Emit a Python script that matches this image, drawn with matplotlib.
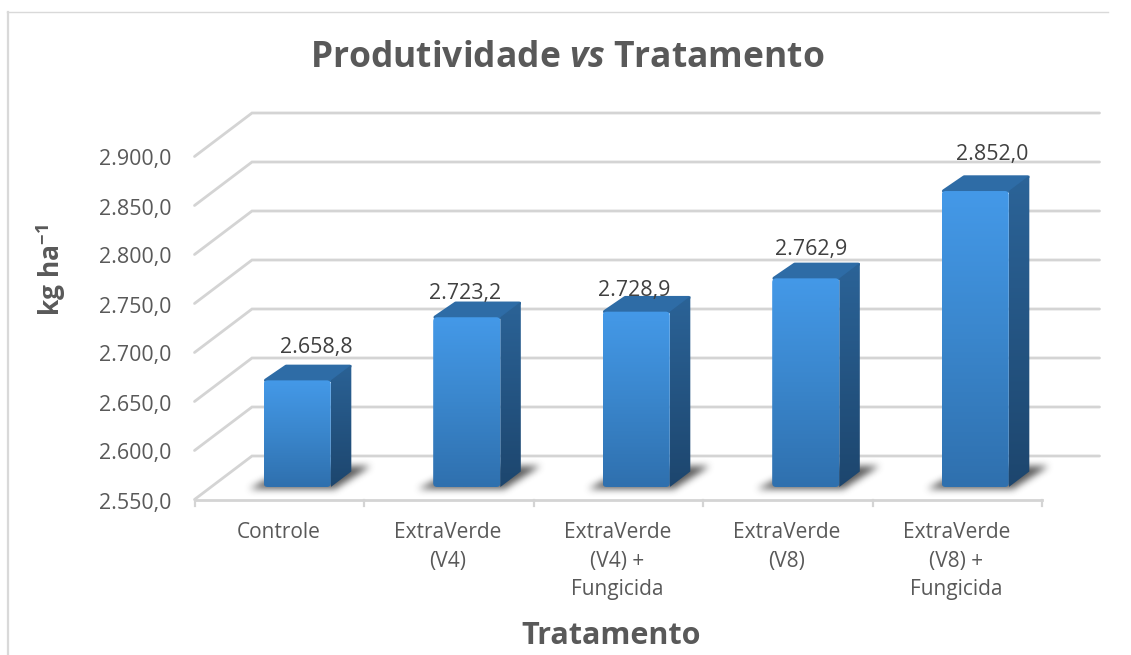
import numpy as np
import matplotlib
matplotlib.use("Agg")
import matplotlib.pyplot as plt
from matplotlib.colors import LinearSegmentedColormap
from matplotlib.patches import FancyBboxPatch, Polygon
from matplotlib.path import Path
from matplotlib.transforms import Affine2D

# dados do grafico
categorias = ["Controle", "ExtraVerde\n(V4)", "ExtraVerde\n(V4) +\nFungicida",
              "ExtraVerde\n(V8)", "ExtraVerde\n(V8) +\nFungicida"]
produtividade = [2658.8, 2723.2, 2728.9, 2762.9, 2852.0]
ticks_y = [2550, 2600, 2650, 2700, 2750, 2800, 2850, 2900]
# os rotulos foram arrastados a mao no original (dx, dy em pixels)
ajuste_rotulos = [(5, -2), (-15, 7), (-16, 9), (-8, 2), (3, -6)]


def fmt_br(v):
    # 2658.8 -> 2.658,8
    return f"{v:,.1f}".replace(",", "#").replace(".", ",").replace("#", ".")


def borrar(m, n=7):
    # borrao simples: caixa aplicada 3x nas duas direcoes
    k = np.ones(n) / n
    for _ in range(3):
        m = np.apply_along_axis(lambda l: np.convolve(l, k, mode="same"), 0, m)
        m = np.apply_along_axis(lambda l: np.convolve(l, k, mode="same"), 1, m)
    return m


plt.rcParams["font.family"] = "Open Sans"
plt.rcParams["mathtext.fontset"] = "custom"
plt.rcParams["mathtext.bf"] = "Open Sans:bold"
plt.rcParams["mathtext.bfit"] = "Open Sans:italic:bold"
plt.rcParams["mathtext.rm"] = "Open Sans:bold"

W, H = 1131, 655
fig = plt.figure(figsize=(W / 100, H / 100), dpi=100, facecolor="white")

# eixo no plano da frente das barras: 5 categorias, base em y=487 px
esq, dir_, base, topo = 212.5, 1060.0, 487.0, 144.0
ax = fig.add_axes([esq / W, 1 - base / H, (dir_ - esq) / W, (base - topo) / H])
ax.axis("off")
ax.set_zorder(1)
xlim = (-0.5, 4.5)
ylim = (2550, 2900)
ax.set_xlim(xlim)
ax.set_ylim(ylim)


def desloc(dx, dy):
    # deslocamento em pixels da imagem sobre as coordenadas de dados (perspectiva)
    return ax.transData + Affine2D().translate(dx, -dy)


frente = (-18, 12.5)
fundo = (39.5, -31)
cor_grade = "#d4d4d4"
cor_texto = "#595959"

# moldura do grafico
fig.add_artist(plt.Line2D([7.5 / W, 7.5 / W], [0, 1 - 11.5 / H], color="#d9d9d9", lw=1.6))
fig.add_artist(plt.Line2D([7 / W, 1108 / W], [1 - 11.5 / H, 1 - 11.5 / H], color="#d9d9d9", lw=1.0))

# grade: linha de fundo + diagonal para o plano da frente
for t in ticks_y:
    px0 = ax.transData.transform((xlim[0], t))
    px1 = ax.transData.transform((xlim[1], t))
    pts = np.array([
        [px0[0] + frente[0], px0[1] - frente[1]],
        [px0[0] + fundo[0], px0[1] - fundo[1]],
        [px1[0] + fundo[0], px1[1] - fundo[1]],
    ])
    ax.plot(pts[:, 0], pts[:, 1], transform=None, color=cor_grade, lw=2.0,
            solid_capstyle="round", solid_joinstyle="miter", clip_on=False, zorder=1)
    ax.text(px0[0] - 41.5, px0[1] - frente[1] - 1, fmt_br(t), transform=None, ha="right",
            va="center_baseline", fontsize=15.4, color=cor_texto)

# chao: linha da frente e ticks
p0 = ax.transData.transform((xlim[0], ylim[0]))
p1 = ax.transData.transform((xlim[1], ylim[0]))
ax.plot([p0[0] + frente[0], p1[0] + frente[0]], [p0[1] - frente[1]] * 2, transform=None,
        color=cor_grade, lw=2.0, clip_on=False, zorder=1)
for i in range(len(categorias) + 1):
    xt = ax.transData.transform((i - 0.5, ylim[0]))[0] + frente[0]
    ax.plot([xt, xt], [p0[1] - frente[1], p0[1] - frente[1] - 6], transform=None,
            color=cor_grade, lw=1.6, clip_on=False, zorder=1)

# gradientes das faces
cmap_frente = LinearSegmentedColormap.from_list("f", ["#2f70ae", "#3a86cc", "#4499e8"])
cmap_lado = LinearSegmentedColormap.from_list("l", ["#1d466e", "#2c659a"])
gradiente = np.linspace(1, 0, 128).reshape(-1, 1)
largura = 0.396
prof = (20.5, -15.5)

# sombras no chao, uma unica imagem borrada atras das barras
yy, xx = np.mgrid[0:H, 0:W]
grade_px = np.column_stack([xx.ravel() + 0.5, yy.ravel() + 0.5])
mascara = np.zeros((H, W))
for i in range(len(categorias)):
    a = ax.transData.transform((i - largura / 2, ylim[0]))
    b = ax.transData.transform((i + largura / 2, ylim[0]))
    ya = H - a[1]
    som = Path([[a[0] - 15, ya + 2], [b[0] + 4, ya + 2], [b[0] + 40, ya - 21], [a[0] + 30, ya - 21]])
    mascara[som.contains_points(grade_px).reshape(H, W)] = 1
rgba = np.zeros((H, W, 4))
rgba[..., :3] = 0.2
rgba[..., 3] = borrar(mascara) * 0.8
fig.figimage(rgba, origin="upper", zorder=0.5, resize=False)

for i, (cat, v) in enumerate(zip(categorias, produtividade)):
    xa, xb = i - largura / 2, i + largura / 2
    a = ax.transData.transform((xa, ylim[0]))
    b = ax.transData.transform((xb, ylim[0]))
    c = ax.transData.transform((xb, v))
    d = ax.transData.transform((xa, v))
    cp = [c[0] + prof[0], c[1] - prof[1]]
    bp = [b[0] + prof[0], b[1] - prof[1]]
    dp = [d[0] + prof[0], d[1] - prof[1]]

    # topo, um pouco recuado para o traco redondo nao passar da aresta
    ax.add_patch(Polygon([[d[0] + 2, d[1]], c, [cp[0] - 1.5, cp[1] - 1.5], [dp[0] + 2, dp[1] - 1.5]],
                         closed=True, transform=None, fc="#2e6ca6", ec="#2e6ca6",
                         lw=2.5, joinstyle="round", zorder=3, clip_on=False))

    # face lateral
    lado = Polygon([b, c, cp, bp], closed=True, transform=None, fc="none", ec="none", zorder=3)
    ax.add_patch(lado)
    im = ax.imshow(gradiente, cmap=cmap_lado, extent=(xb, xb + 0.2, ylim[0], v + 30),
                   aspect="auto", vmin=0, vmax=1, zorder=3.2)
    im.set_clip_path(lado)

    # face da frente com cantos arredondados
    caixa = FancyBboxPatch((a[0] + 2, a[1] + 2), b[0] - a[0] - 4, d[1] - a[1] - 4,
                           boxstyle="round,pad=2,rounding_size=4", transform=None,
                           fc="none", ec="none", zorder=4)
    ax.add_patch(caixa)
    im = ax.imshow(gradiente, cmap=cmap_frente, extent=(xa, xb, ylim[0], v), aspect="auto",
                   vmin=0, vmax=1, zorder=4)
    im.set_clip_path(caixa)

    # rotulos
    dx, dy = ajuste_rotulos[i]
    ax.text(i + 0.02, v, fmt_br(v), transform=desloc(prof[0] * 0.5 + dx, -33 + dy), ha="center",
            va="center_baseline", fontsize=15.4, color="#404040", zorder=6)
    xr = ax.transData.transform((i, ylim[0]))[0] + frente[0] - 1
    ax.text(xr, H - 521.5, cat, transform=None, ha="center", va="top", fontsize=15.0,
            color=cor_texto, linespacing=1.5, multialignment="center")

ax.set_xlim(xlim)
ax.set_ylim(ylim)

fig.text(567 / W, 1 - 58 / H, r"Produtividade $\mathbfit{vs}$ Tratamento", ha="center",
         va="center", fontsize=25.5, fontweight="bold", color=cor_texto)
fig.text(611 / W, 1 - 636 / H, "Tratamento", ha="center", va="center", fontsize=22,
         fontweight="bold", color=cor_texto)
fig.text(51 / W, 1 - 270 / H, r"kg ha$^{\mathbf{-1}}$", ha="center", va="center",
         rotation=90, fontsize=19, fontweight="bold", color=cor_texto)

fig.savefig("out.png", dpi=100, facecolor="white")
